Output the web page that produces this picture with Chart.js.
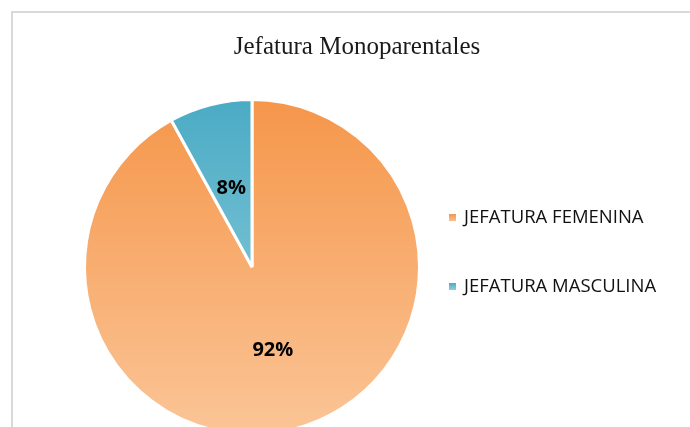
<!DOCTYPE html>
<html>
<head>
<meta charset="utf-8">
<script src="https://cdn.jsdelivr.net/npm/chart.js@4"></script>
<style>
  html, body { margin: 0; padding: 0; background: #ffffff; }
  #wrap { position: relative; width: 690px; height: 427px; overflow: hidden; }
  #frame { position: absolute; left: 11px; top: 11px; width: 690px; height: 440px;
           border-left: 2px solid #d9d9d9; border-top: 2px solid #d9d9d9; }
  #chart-box { position: absolute; left: 0; top: 0; width: 690px; height: 440px; }
</style>
</head>
<body>
<div id="wrap">
  <div id="frame"></div>
  <div id="chart-box"><canvas id="pie"></canvas></div>
</div>
<script>
const chartTitle = "Jefatura Monoparentales";
const categories = ["JEFATURA FEMENINA", "JEFATURA MASCULINA"];
const shares = [92, 8];
// top / bottom colours of each slice's vertical gradient
const topColors = ["#F5964A", "#4AABC4"];
const bottomColors = ["#FBC597", "#9AD2E0"];

// Gradient over the pie's bounding box
const sliceGradient = (context) => {
    const chart = context.chart;
    const area = chart.chartArea;
    if (!area) return topColors[context.dataIndex];
    const g = chart.ctx.createLinearGradient(0, area.top, 0, area.bottom);
    g.addColorStop(0, topColors[context.dataIndex]);
    g.addColorStop(1, bottomColors[context.dataIndex]);
    return g;
};

// Title, percent labels and the legend on the right
const decorations = {
    id: "decorations",
    afterDraw(chart) {
        const ctx = chart.ctx;
        ctx.save();

        ctx.fillStyle = "#1a1a1a";
        ctx.textAlign = "center";
        ctx.textBaseline = "middle";
        ctx.font = "25px 'Liberation Serif', serif";
        ctx.fillText(chartTitle, 357, 47);

        const arcs = chart.getDatasetMeta(0).data;
        ctx.font = "bold 20px 'Open Sans', sans-serif";
        ctx.fillStyle = "#000000";
        arcs.forEach((arc, i) => {
            const p = arc.tooltipPosition();
            ctx.fillText(shares[i] + "%", p.x, p.y + 2);
        });

        ctx.textAlign = "left";
        ctx.font = "18.5px 'Open Sans', sans-serif";
        categories.forEach((name, i) => {
            const y = 218 + i * 69;
            const g = ctx.createLinearGradient(0, y - 4, 0, y + 4);
            g.addColorStop(0, topColors[i]);
            g.addColorStop(1, bottomColors[i]);
            ctx.fillStyle = g;
            ctx.fillRect(449, y - 4, 7, 7);
            ctx.fillStyle = "#111111";
            ctx.fillText(name, 464, y);
        });

        ctx.restore();
    },
};

new Chart(document.getElementById("pie"), {
    type: "pie",
    data: {
        labels: categories,
        datasets: [
            {
                data: shares,
                backgroundColor: sliceGradient,
                borderColor: "#ffffff",
                borderWidth: 3,
            },
        ],
    },
    options: {
        responsive: true,
        maintainAspectRatio: false,
        animation: false,
        layout: {
            padding: { left: 83, top: 98, right: 269, bottom: 4 },
        },
        plugins: {
            legend: { display: false },
            tooltip: { enabled: false },
        },
    },
    plugins: [decorations],
});
</script>
</body>
</html>
